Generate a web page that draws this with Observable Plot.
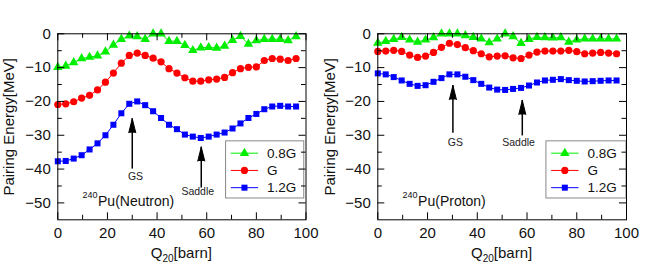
<!DOCTYPE html>
<html>
<head>
<meta charset="utf-8">
<script src="https://cdn.jsdelivr.net/npm/d3@7"></script>
<script src="https://cdn.jsdelivr.net/npm/@observablehq/plot@0.6"></script>
<style>
  html, body { margin: 0; padding: 0; background: white; }
  #wrap { display: flex; width: 659px; height: 265px; }
  svg text { font-family: "Liberation Sans", Arial, sans-serif; }
</style>
</head>
<body>
<div id="wrap"></div>
<script>
// Quadrupole deformation Q20 [barn]
const q20 = [0, 3.2, 6.4, 9.6, 12.8, 16, 19.2, 22.4, 25.6, 28.8, 32, 35.2, 38.4, 41.6, 44.8, 48,
  51.2, 54.4, 57.6, 60.8, 64, 67.2, 70.4, 73.6, 76.8, 80, 83.2, 86.4, 89.6, 92.8, 96];

// Neutron pairing energy [MeV]
const neutron08 = [-9.9, -9.5, -8.5, -7.3, -6.9, -6.5, -5.3, -3.3, -1.6, -0.6, -0.8, -1.6, 0, 0, -2.2, -2.2,
  -3.4, -4.9, -4.1, -4.0, -4.2, -3.6, -1.9, -0.7, -3.0, -2.0, -1.6, -1.6, -1.6, -2.0, -0.8];
const neutronG = [-20.9, -20.7, -20.1, -19.0, -18.2, -16.6, -14.3, -11.6, -8.7, -6.4, -5.7, -6.4, -7.2, -8.3, -10.3, -11.6,
  -13.0, -14.0, -14.0, -13.6, -13.4, -12.9, -11.5, -10.3, -9.9, -9.8, -7.9, -7.3, -7.5, -7.9, -7.3];
const neutron12 = [-37.7, -37.6, -36.9, -35.9, -34.2, -32.4, -30.0, -26.9, -23.5, -20.7, -20.0, -21.1, -22.9, -24.9, -26.9, -28.2,
  -29.8, -30.4, -30.8, -30.4, -29.8, -29.2, -28.0, -26.5, -24.9, -23.7, -22.3, -21.5, -21.3, -21.5, -21.5];

// Proton pairing energy [MeV]
const proton08 = [-2.7, -2.2, -1.6, -1.0, -1.8, -2.4, -1.8, -1.1, 0, 0, 0, -0.5, -1.0, -1.5, -2.6, -1.5,
  0, -0.8, -2.8, -1.6, -1.0, -1.1, -1.2, -1.1, -2.4, -1.8, -1.5, -1.5, -1.5, -1.5, -1.5];
const protonG = [-5.2, -5.1, -4.9, -5.2, -6.3, -7.0, -6.6, -5.5, -4.0, -2.8, -3.2, -4.1, -5.0, -5.9, -6.8, -6.6,
  -6.5, -7.1, -7.3, -6.3, -5.4, -5.1, -5.1, -5.1, -4.9, -5.3, -5.9, -5.7, -5.5, -5.7, -5.9];
const proton12 = [-11.7, -12.0, -12.8, -13.8, -14.8, -15.4, -15.2, -14.2, -13.1, -12.0, -12.0, -12.7, -13.7, -14.8, -15.9, -16.5,
  -16.6, -16.3, -16.0, -15.3, -14.4, -13.8, -13.6, -13.4, -13.7, -13.9, -14.1, -14.0, -13.9, -13.8, -13.8];

const seriesNames = ["0.8G", "G", "1.2G"];
const seriesColors = ["#00ee00", "#ff0000", "#0000ff"];
const seriesSymbols = ["triangle", "circle", "square"];
const seriesR = [3.5, 3.6, 3.4];

const xMajor = [0, 20, 40, 60, 80, 100];
const xMinor = [10, 30, 50, 70, 90];
const yMajor = [0, -10, -20, -30, -40, -50];
const yMinor = [-5, -15, -25, -35, -45];

// Annotation arrows per panel
const neutronArrows = [
  {label: "GS", x: 30, tip: -25.1, tail: -40.0, lx: 31.3, ly: -42.2},
  {label: "Saddle", x: 57.8, tip: -33.5, tail: -45.6, lx: 56.4, ly: -46.8}
];
const protonArrows = [
  {label: "GS", x: 30.2, tip: -15.3, tail: -29.4, lx: 31.2, ly: -32.1},
  {label: "Saddle", x: 58.1, tip: -19.7, tail: -30.2, lx: 56.6, ly: -32.1}
];

// Legend layout (data units)
const legendBox = {x1: 67.8, x2: 99.3, y1: -31.8, y2: -48.7};
const legendRows = [-35.3, -40.4, -45.5];
const legendLine = [69.7, 80.7];
const legendTextX = 84.3;

const fmt = d => d < 0 ? "\u2212" + Math.abs(d) : String(d);

function panel({values, arrows, nucleus, nucleusX, nucleusY, width, marginLeft, marginRight, ylabelDx, boxX2}) {
  const marginTop = 33.3, marginBottom = 45.7, height = 265;
  const innerH = height - marginTop - marginBottom;
  const innerW = width - marginLeft - marginRight;
  const rows = [];
  values.forEach((arr, s) => arr.forEach((v, i) => rows.push({x: q20[i], y: v, s})));
  const legend = seriesNames.map((n, s) => ({name: n, s, y: legendRows[s]}));
  const box = {...legendBox, x2: boxX2};
  const marks = [
    Plot.rect([box], {x1: "x1", x2: "x2", y1: "y1", y2: "y2", fill: "white", stroke: "#888", strokeWidth: 1}),
    // arrows
    Plot.ruleX(arrows, {x: "x", y1: "tip", y2: "tail", stroke: "black", strokeWidth: 1.5}),
    Plot.vector(arrows, {x: "x", y: "tip", length: 14, rotate: 0, anchor: "end", shape: "spike", r: 3.5, stroke: "black", fill: "black", strokeWidth: 1}),
    Plot.text(arrows, {x: "lx", y: "ly", text: "label", fontSize: 10.5, fill: "#222"}),
    // series lines and markers
    ...seriesNames.map((n, s) => Plot.line(rows.filter(d => d.s === s), {x: "x", y: "y", stroke: seriesColors[s], strokeWidth: 1})),
    ...seriesNames.map((n, s) => Plot.dot(rows.filter(d => d.s === s), {x: "x", y: "y", symbol: seriesSymbols[s], r: seriesR[s], fill: seriesColors[s], stroke: "none"})),
    // legend entries
    Plot.link(legend, {x1: legendLine[0], x2: legendLine[1], y1: "y", y2: "y", stroke: d => seriesColors[d.s], strokeWidth: 1}),
    ...legend.map(d => Plot.dot([d], {x: (legendLine[0] + legendLine[1]) / 2, y: "y", symbol: seriesSymbols[d.s], r: seriesR[d.s], fill: seriesColors[d.s], stroke: "none"})),
    Plot.text(legend, {x: legendTextX, y: "y", text: "name", textAnchor: "start", fontSize: 13.5, fill: "#111"}),
    // nucleus label
    Plot.text([nucleus], {x: nucleusX, y: nucleusY, text: d => d, textAnchor: "start", fontSize: 14, fill: "#111"}),
    Plot.text(["240"], {x: nucleusX, y: nucleusY, dy: -6, dx: -0.5, text: d => d, textAnchor: "end", fontSize: 9, fill: "#111"}),
    // inward ticks on all four sides
    Plot.tickX(xMajor, {x: d => d, insetTop: innerH - 7, stroke: "black"}),
    Plot.tickX(xMinor, {x: d => d, insetTop: innerH - 4.5, stroke: "black"}),
    Plot.tickX(xMajor, {x: d => d, insetBottom: innerH - 7, stroke: "black"}),
    Plot.tickX(xMinor, {x: d => d, insetBottom: innerH - 4.5, stroke: "black"}),
    Plot.tickY(yMajor, {y: d => d, insetRight: innerW - 7, stroke: "black"}),
    Plot.tickY(yMinor, {y: d => d, insetRight: innerW - 4.5, stroke: "black"}),
    Plot.tickY(yMajor, {y: d => d, insetLeft: innerW - 7, stroke: "black"}),
    Plot.tickY(yMinor, {y: d => d, insetLeft: innerW - 4.5, stroke: "black"}),
    Plot.frame({stroke: "black", strokeWidth: 1}),
    Plot.axisX({ticks: xMajor, tickSize: 0, tickPadding: 8, tickFormat: fmt, fontSize: 15, fill: "#111", label: null}),
    Plot.axisY({ticks: yMajor, tickSize: 0, tickPadding: 7, tickFormat: fmt, fontSize: 15, fill: "#111", label: null}),
    Plot.text(["Pairing Energy[MeV]"], {frameAnchor: "left", textAnchor: "middle", lineAnchor: "middle", rotate: -90, dx: ylabelDx, text: d => d, fontSize: 15, fill: "#111"})
  ];
  const plot = Plot.plot({
    width, height, marginTop, marginBottom, marginLeft, marginRight,
    style: {fontFamily: "Liberation Sans, Arial, sans-serif", background: "white", overflow: "visible"},
    x: {domain: [0, 100]},
    y: {domain: [-55, 0]},
    marks
  });
  // x axis label with subscript
  const xs = plot.scale("x");
  const cx = (xs.range[0] + xs.range[1]) / 2;
  const t = d3.select(plot).append("text")
    .attr("x", cx).attr("y", 258)
    .attr("text-anchor", "middle")
    .attr("font-size", 15)
    .attr("fill", "#111")
    .attr("font-family", "Liberation Sans, Arial, sans-serif");
  t.append("tspan").text("Q");
  t.append("tspan").attr("font-size", 10).attr("dy", 4).text("20");
  t.append("tspan").attr("dy", -4).text("[barn]");
  return plot;
}

const wrap = document.getElementById("wrap");
wrap.appendChild(panel({
  values: [neutron08, neutronG, neutron12], arrows: neutronArrows,
  nucleus: "Pu(Neutron)", nucleusX: 16.2, nucleusY: -49.6,
  width: 330, marginLeft: 57.3, marginRight: 24.5, ylabelDx: -48.8, boxX2: 99.3
}));
wrap.appendChild(panel({
  values: [proton08, protonG, proton12], arrows: protonArrows,
  nucleus: "Pu(Proton)", nucleusX: 16.2, nucleusY: -49.6,
  width: 329, marginLeft: 47.3, marginRight: 33, ylabelDx: -47.3, boxX2: 100
}));
</script>
</body>
</html>
